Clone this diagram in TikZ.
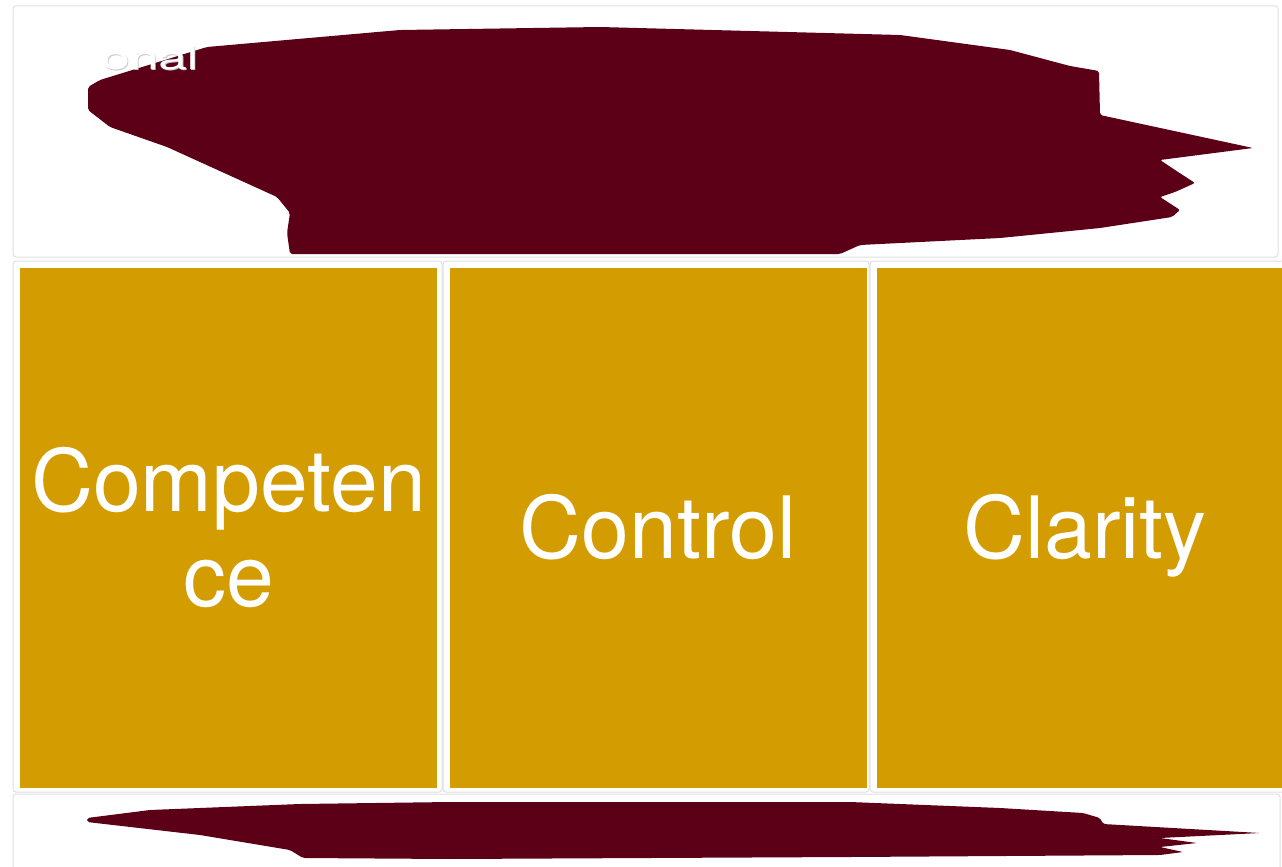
\documentclass[tikz,border=0pt]{standalone}
\usepackage{fontspec}
\setmainfont{TeX Gyre Heros}

\definecolor{maroon}{RGB}{92,0,23}
\definecolor{gold}{RGB}{211,156,0}

\tikzset{
  card/.style={draw=black!12, fill=white, line width=1pt, rounded corners=3pt},
  brush/.style={fill=maroon, draw=none, rounded corners=2pt},
  title/.style={anchor=base west, font=\fontsize{32}{38}\selectfont},
  goldbox/.style={fill=gold, text=white, inner sep=0pt, align=center,
    minimum width=417pt, minimum height=520pt,
    font=\fontsize{86}{95}\selectfont},
  oneline/.style={goldbox, text height=60pt, text depth=0pt}
}

\begin{document}
\begin{tikzpicture}[x=1pt,y=-1pt]
  \useasboundingbox (0,0) rectangle (1282,867);
  \clip (0,0) rectangle (1282,867);

  % white cards behind everything
  \draw[card] (13,6) rectangle (1278,257);
  \draw[card] (13,261) rectangle (442,792);
  \draw[card] (443,261) rectangle (869,792);
  \draw[card] (870,261) rectangle (1300,792);
  \draw[card] (13,794) rectangle (1280,880);

  % top brush stroke
  \fill[brush] (88,87) -- (100,80) -- (207,47) -- (400,30) -- (600,27) -- (900,35)
    -- (1010,50) -- (1070,66) -- (1099,71) -- (1100,115) -- (1253,148)
    -- (1160,160) -- (1175,170) -- (1195,183) -- (1175,192) -- (1160,197)
    -- (1180,210) -- (1172,217) -- (1100,228) -- (1000,238) -- (860,245)
    -- (840,254) -- (290,254) -- (287,233) -- (290,213) -- (277,197)
    -- (233,177) -- (167,147) -- (110,127) -- (88,110) -- cycle;
  \node[title, text=black!22] (heading shadow) at (98.8,70.8) {\scalebox{1.6}[1]{onal}};
  \node[title, text=white] (heading) at (98,70) {\scalebox{1.6}[1]{onal}};

  % the three boxes
  \node[goldbox] (competence) at (228.5,528) {Competen\\ce};
  \node[oneline] (control) at (658,528) {Control};
  \node[oneline] (clarity) at (1085,528) {Clarity};

  % bottom brush stroke
  \fill[brush] (87,818) -- (150,810) -- (300,804) -- (450,802) -- (850,802)
    -- (1000,808) -- (1083,813) -- (1100,818) -- (1103,824) -- (1260,833)
    -- (1160,838) -- (1197,843) -- (1160,847) -- (1183,852) -- (1160,855)
    -- (850,857) -- (450,859) -- (303,858) -- (290,850) -- (200,835)
    -- (87,822) -- cycle;
\end{tikzpicture}
\end{document}
